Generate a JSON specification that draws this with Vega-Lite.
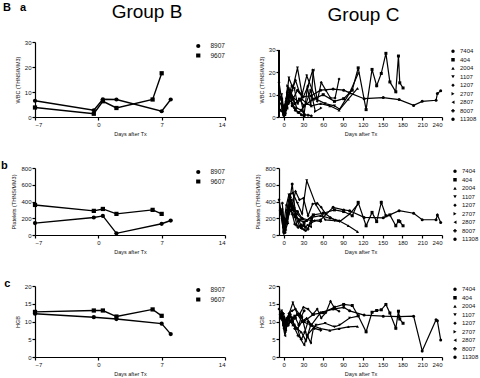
{
"$schema": "https://vega.github.io/schema/vega-lite/v6.json",
"padding": {"left": 0, "top": 2, "right": 0, "bottom": 0},
"background": "white",
"config": {
  "font": "Liberation Sans",
  "view": {"stroke": null},
  "axis": {"grid": false, "domainColor": "#000", "domainWidth": 1.2, "tickColor": "#000", "tickWidth": 1.2, "tickSize": 3, "labelFontSize": 6, "labelColor": "#111", "labelPadding": 1, "titleFontSize": 5.5, "titleFontWeight": "normal", "titleColor": "#111", "titlePadding": 4},
  "legend": {"labelFontSize": 6.3, "labelColor": "#111", "symbolFillColor": "#000", "symbolStrokeColor": "#000"},
  "title": {"color": "#000", "fontWeight": "normal"}
},
"title": {"text": "B\u00a0\u00a0\u00a0a", "anchor": "start", "fontSize": 11, "fontWeight": "bold", "offset": -10, "frame": "bounds", "dx": 2},
"datasets": {
  "B": [
    {"id": "9607", "day": -7, "wbc": 3.8, "plt": 359, "hgb": 12.7},
    {"id": "9607", "day": -0.5, "wbc": 1.3, "plt": 288, "hgb": 13.1},
    {"id": "9607", "day": 0.5, "wbc": 6.3, "plt": 311, "hgb": 13.1},
    {"id": "9607", "day": 2, "wbc": 3.6, "plt": 252, "hgb": 11.4},
    {"id": "9607", "day": 6, "wbc": 7.0, "plt": 300, "hgb": 13.4},
    {"id": "9607", "day": 7, "wbc": 17.5, "plt": 252, "hgb": 11.6},
    {"id": "8907", "day": -7, "wbc": 6.5, "plt": 142, "hgb": 12.2},
    {"id": "8907", "day": -0.5, "wbc": 2.7, "plt": 209, "hgb": 11.2},
    {"id": "8907", "day": 0.5, "wbc": 7.1, "plt": 228, "hgb": null},
    {"id": "8907", "day": 2, "wbc": 7.0, "plt": 20, "hgb": 10.7},
    {"id": "8907", "day": 7, "wbc": 2.3, "plt": 134, "hgb": 9.4},
    {"id": "8907", "day": 8, "wbc": 7.0, "plt": 173, "hgb": 6.45}
  ],
  "C": [
    {"id": "7404", "day": -5, "wbc": 3, "plt": 300, "hgb": 12},
    {"id": "7404", "day": 0, "wbc": 1.5, "plt": 150, "hgb": 10},
    {"id": "7404", "day": 7, "wbc": 6, "plt": 250, "hgb": 9},
    {"id": "7404", "day": 14, "wbc": 8, "plt": 320, "hgb": 11},
    {"id": "7404", "day": 21, "wbc": 12, "plt": 280, "hgb": 12},
    {"id": "7404", "day": 28, "wbc": 9, "plt": 200, "hgb": 10},
    {"id": "7404", "day": 42, "wbc": 9.5, "plt": 170, "hgb": 9},
    {"id": "7404", "day": 56, "wbc": 12, "plt": 180, "hgb": 12.5},
    {"id": "7404", "day": 75, "wbc": 12.5, "plt": 330, "hgb": 13.5},
    {"id": "7404", "day": 91, "wbc": 12, "plt": 300, "hgb": 14},
    {"id": "7404", "day": 100, "wbc": 10.8, "plt": 290, "hgb": 13},
    {"id": "7404", "day": 122, "wbc": 8.2, "plt": 210, "hgb": 11.8},
    {"id": "7404", "day": 151, "wbc": 8.7, "plt": 205, "hgb": 11.5},
    {"id": "7404", "day": 175, "wbc": 7.8, "plt": 290, "hgb": 11.4},
    {"id": "7404", "day": 197, "wbc": 5.2, "plt": 260, "hgb": 11.5},
    {"id": "7404", "day": 210, "wbc": 7.0, "plt": 182, "hgb": 1.7},
    {"id": "7404", "day": 231, "wbc": 7.5, "plt": 182, "hgb": 10.5},
    {"id": "7404", "day": 233, "wbc": 10.5, "plt": 240, "hgb": 10.2},
    {"id": "7404", "day": 238, "wbc": 11.7, "plt": 150, "hgb": 4.8},
    {"id": "404", "day": -3, "wbc": 8, "plt": 280, "hgb": 12},
    {"id": "404", "day": 0, "wbc": 2, "plt": 100, "hgb": 11},
    {"id": "404", "day": 5, "wbc": 4, "plt": 150, "hgb": 9},
    {"id": "404", "day": 10, "wbc": 10, "plt": 300, "hgb": 10},
    {"id": "404", "day": 17, "wbc": 6, "plt": 220, "hgb": 11.5},
    {"id": "404", "day": 24, "wbc": 8, "plt": 180, "hgb": 12},
    {"id": "404", "day": 31, "wbc": 5, "plt": 150, "hgb": 10},
    {"id": "404", "day": 45, "wbc": 8, "plt": 240, "hgb": 12},
    {"id": "404", "day": 60, "wbc": 10, "plt": 260, "hgb": 12.5},
    {"id": "404", "day": 77, "wbc": 7, "plt": 300, "hgb": 14},
    {"id": "404", "day": 91, "wbc": 8.2, "plt": 280, "hgb": 14.8},
    {"id": "404", "day": 104, "wbc": 12, "plt": 230, "hgb": 14.5},
    {"id": "404", "day": 113, "wbc": 22, "plt": 390, "hgb": 11.6},
    {"id": "404", "day": 125, "wbc": 3.3, "plt": 110, "hgb": 7.1},
    {"id": "404", "day": 134, "wbc": 21.3, "plt": 270, "hgb": 12.6},
    {"id": "404", "day": 141, "wbc": 14, "plt": 160, "hgb": 13.1},
    {"id": "404", "day": 148, "wbc": 19.5, "plt": 390, "hgb": 13.3},
    {"id": "404", "day": 155, "wbc": 28.5, "plt": 230, "hgb": 14.8},
    {"id": "404", "day": 161, "wbc": 15.7, "plt": 240, "hgb": 12.4},
    {"id": "404", "day": 170, "wbc": 11.3, "plt": 110, "hgb": 8.1},
    {"id": "404", "day": 174, "wbc": 27.3, "plt": 170, "hgb": 12.9},
    {"id": "404", "day": 176, "wbc": 15.3, "plt": 160, "hgb": 10.7},
    {"id": "404", "day": 181, "wbc": 13, "plt": 110, "hgb": 9.5},
    {"id": "2004", "day": -2, "wbc": 6, "plt": 320, "hgb": 12},
    {"id": "2004", "day": 0, "wbc": 3, "plt": 200, "hgb": 10},
    {"id": "2004", "day": 3, "wbc": 2, "plt": 150, "hgb": 9},
    {"id": "2004", "day": 7, "wbc": 8, "plt": 280, "hgb": 11},
    {"id": "2004", "day": 10, "wbc": 12, "plt": 350, "hgb": 10},
    {"id": "2004", "day": 14, "wbc": 9, "plt": 300, "hgb": 9},
    {"id": "2004", "day": 21, "wbc": 7, "plt": 250, "hgb": 8},
    {"id": "2004", "day": 28, "wbc": 8, "plt": 190, "hgb": 10},
    {"id": "2004", "day": 35, "wbc": 6, "plt": 170, "hgb": 11},
    {"id": "2004", "day": 42, "wbc": 5, "plt": 210, "hgb": 9},
    {"id": "2004", "day": 56, "wbc": 6, "plt": 230, "hgb": 8},
    {"id": "2004", "day": 70, "wbc": 5, "plt": 200, "hgb": 7.5},
    {"id": "2004", "day": 84, "wbc": 3, "plt": 170, "hgb": 8},
    {"id": "2004", "day": 98, "wbc": 8, "plt": 110, "hgb": 8.5},
    {"id": "2004", "day": 112, "wbc": 12.8, "plt": 40, "hgb": 8.6},
    {"id": "1107", "day": -3, "wbc": 10, "plt": 260, "hgb": 13},
    {"id": "1107", "day": 0, "wbc": 4, "plt": 120, "hgb": 12},
    {"id": "1107", "day": 4, "wbc": 8, "plt": 350, "hgb": 10},
    {"id": "1107", "day": 8, "wbc": 17.5, "plt": 480, "hgb": 12},
    {"id": "1107", "day": 14, "wbc": 13, "plt": 500, "hgb": 15.3},
    {"id": "1107", "day": 21, "wbc": 22, "plt": 380, "hgb": 12},
    {"id": "1107", "day": 28, "wbc": 10, "plt": 250, "hgb": 11},
    {"id": "1107", "day": 35, "wbc": 18.5, "plt": 650, "hgb": 6},
    {"id": "1107", "day": 49, "wbc": 8, "plt": 360, "hgb": 9},
    {"id": "1107", "day": 63, "wbc": 6, "plt": 180, "hgb": 9.5},
    {"id": "1107", "day": 77, "wbc": 5, "plt": 170, "hgb": 8.5},
    {"id": "1107", "day": 85, "wbc": 3.5, "plt": 160, "hgb": 9},
    {"id": "1107", "day": 100, "wbc": 10.8, "plt": 250, "hgb": 11},
    {"id": "1107", "day": 113, "wbc": 19.5, "plt": 370, "hgb": 11.5},
    {"id": "1207", "day": -7, "wbc": 15.6, "plt": 420, "hgb": 13.5},
    {"id": "1207", "day": 0, "wbc": 2, "plt": 120, "hgb": 11},
    {"id": "1207", "day": 2, "wbc": 5, "plt": 80, "hgb": 9},
    {"id": "1207", "day": 5, "wbc": 9, "plt": 300, "hgb": 11},
    {"id": "1207", "day": 9, "wbc": 7, "plt": 480, "hgb": 12.5},
    {"id": "1207", "day": 13, "wbc": 12, "plt": 340, "hgb": 13},
    {"id": "1207", "day": 18, "wbc": 16.5, "plt": 520, "hgb": 13.5},
    {"id": "1207", "day": 24, "wbc": 11, "plt": 420, "hgb": 12},
    {"id": "1207", "day": 30, "wbc": 9, "plt": 440, "hgb": 14},
    {"id": "1207", "day": 37, "wbc": 14, "plt": 230, "hgb": 13.5},
    {"id": "1207", "day": 44, "wbc": 21, "plt": 370, "hgb": 12},
    {"id": "1207", "day": 51, "wbc": 7, "plt": 380, "hgb": 13.5},
    {"id": "1207", "day": 57, "wbc": 15.5, "plt": 330, "hgb": 11},
    {"id": "1207", "day": 64, "wbc": 12, "plt": 250, "hgb": 12.5},
    {"id": "1207", "day": 71, "wbc": 8.5, "plt": 210, "hgb": 15.7},
    {"id": "1207", "day": 78, "wbc": 8.5, "plt": 180, "hgb": 13.5},
    {"id": "1207", "day": 84, "wbc": 17, "plt": 170, "hgb": 12.9},
    {"id": "2707", "day": -4, "wbc": 6, "plt": 250, "hgb": 11.5},
    {"id": "2707", "day": 0, "wbc": 1, "plt": 40, "hgb": 9},
    {"id": "2707", "day": 3, "wbc": 3, "plt": 100, "hgb": 7},
    {"id": "2707", "day": 6, "wbc": 14, "plt": 230, "hgb": 10},
    {"id": "2707", "day": 10, "wbc": 11, "plt": 400, "hgb": 11.5},
    {"id": "2707", "day": 14, "wbc": 9, "plt": 320, "hgb": 10},
    {"id": "2707", "day": 20, "wbc": 4, "plt": 120, "hgb": 8},
    {"id": "2707", "day": 27, "wbc": 3, "plt": 90, "hgb": 7},
    {"id": "2707", "day": 34, "wbc": 6, "plt": 50, "hgb": 4.5},
    {"id": "2707", "day": 41, "wbc": 12, "plt": 140, "hgb": 9},
    {"id": "2707", "day": 48, "wbc": 2.5, "plt": 170, "hgb": 8},
    {"id": "2707", "day": 57, "wbc": 4, "plt": 160, "hgb": 7.5},
    {"id": "2807", "day": -3, "wbc": 4, "plt": 200, "hgb": 12},
    {"id": "2807", "day": 0, "wbc": 0.5, "plt": 20, "hgb": 8},
    {"id": "2807", "day": 2, "wbc": 2, "plt": 60, "hgb": 6},
    {"id": "2807", "day": 5, "wbc": 11, "plt": 200, "hgb": 9},
    {"id": "2807", "day": 8, "wbc": 9, "plt": 350, "hgb": 11},
    {"id": "2807", "day": 12, "wbc": 14, "plt": 420, "hgb": 10},
    {"id": "2807", "day": 16, "wbc": 13, "plt": 320, "hgb": 9},
    {"id": "2807", "day": 21, "wbc": 6, "plt": 160, "hgb": 8},
    {"id": "2807", "day": 26, "wbc": 8, "plt": 80, "hgb": 5},
    {"id": "2807", "day": 31, "wbc": 1, "plt": 60, "hgb": 3.4},
    {"id": "2807", "day": 36, "wbc": 13.5, "plt": 120, "hgb": 6},
    {"id": "2807", "day": 41, "wbc": 5, "plt": 100, "hgb": 4},
    {"id": "2807", "day": 45, "wbc": 21, "plt": 240, "hgb": 8},
    {"id": "8007", "day": -2, "wbc": 5, "plt": 380, "hgb": 12.5},
    {"id": "8007", "day": 0, "wbc": 1.5, "plt": 180, "hgb": 9},
    {"id": "8007", "day": 3, "wbc": 3, "plt": 60, "hgb": 7.5},
    {"id": "8007", "day": 6, "wbc": 10, "plt": 140, "hgb": 9.5},
    {"id": "8007", "day": 9, "wbc": 12, "plt": 420, "hgb": 12},
    {"id": "8007", "day": 13, "wbc": 6, "plt": 250, "hgb": 11},
    {"id": "8007", "day": 17, "wbc": 4, "plt": 130, "hgb": 8},
    {"id": "8007", "day": 22, "wbc": 2, "plt": 90, "hgb": 6},
    {"id": "8007", "day": 27, "wbc": 3, "plt": 120, "hgb": 5},
    {"id": "8007", "day": 32, "wbc": 1, "plt": 100, "hgb": 7},
    {"id": "8007", "day": 37, "wbc": 0.8, "plt": 70, "hgb": 10},
    {"id": "8007", "day": 42, "wbc": 0.5, "plt": 200, "hgb": 9},
    {"id": "11308", "day": -5, "wbc": 9, "plt": 290, "hgb": 11},
    {"id": "11308", "day": 0, "wbc": 3, "plt": 100, "hgb": 9.5},
    {"id": "11308", "day": 2, "wbc": 1, "plt": 30, "hgb": 8},
    {"id": "11308", "day": 4, "wbc": 7, "plt": 180, "hgb": 10},
    {"id": "11308", "day": 7, "wbc": 13, "plt": 330, "hgb": 11},
    {"id": "11308", "day": 10, "wbc": 10, "plt": 450, "hgb": 12},
    {"id": "11308", "day": 13, "wbc": 5, "plt": 610, "hgb": 10},
    {"id": "11308", "day": 18, "wbc": 3, "plt": 250, "hgb": 11},
    {"id": "11308", "day": 23, "wbc": 2, "plt": 180, "hgb": 9},
    {"id": "11308", "day": 27, "wbc": 1, "plt": 100, "hgb": 11.5},
    {"id": "11308", "day": 31, "wbc": 0.5, "plt": 120, "hgb": 13}
  ]
},
"columns": 2,
"align": "each",
"spacing": {"row": 23, "column": 29},
"resolve": {"scale": {"x": "independent", "y": "independent", "shape": "independent"}, "legend": {"shape": "independent"}, "axis": {"x": "independent", "y": "independent"}},
"concat": [
  {
    "title": {"text": "Group B", "fontSize": 19, "anchor": "middle", "offset": 17, "dx": 17},
    "width": 190, "height": 75,
    "data": {"name": "B"},
    "encoding": {
      "x": {"field": "day", "type": "quantitative", "scale": {"domain": [-7, 14], "nice": false, "zero": false}, "axis": {"values": [-7, 0, 7, 14], "title": "Days after Tx"}},
      "y": {"field": "wbc", "type": "quantitative", "scale": {"domain": [0, 30], "nice": false}, "axis": {"values": [0, 10, 20, 30], "title": "WBC (THNS/MM3)"}}
    },
    "layer": [
      {"mark": {"type": "line", "color": "#000", "strokeWidth": 1.4}, "encoding": {"detail": {"field": "id"}}},
      {"mark": {"type": "point", "filled": true, "color": "#000", "opacity": 1, "size": 18},
       "encoding": {"shape": {"field": "id", "type": "nominal", "scale": {"domain": ["8907", "9607"], "range": ["circle", "square"]}, "legend": {"title": null, "orient": "top-right", "offset": 0, "labelOffset": 9, "symbolSize": 18, "clipHeight": 8, "rowPadding": 1.5, "labelFontSize": 6.5}}}}
    ]
  },
  {
    "title": {"text": "Group C", "fontSize": 19, "anchor": "middle", "offset": 17, "dx": 3},
    "width": 163, "height": 75,
    "data": {"name": "C"},
    "encoding": {
      "x": {"field": "day", "type": "quantitative", "scale": {"domain": [-7, 240], "nice": false, "zero": false}, "axis": {"values": [0, 30, 60, 90, 120, 150, 180, 210, 240], "title": "Days after Tx"}},
      "y": {"field": "wbc", "type": "quantitative", "scale": {"domain": [0, 33.58], "nice": false}, "axis": {"values": [0, 10, 20, 30], "title": "WBC (THNS/MM3)", "domain": false}}
    },
    "layer": [
      {"mark": {"type": "rule", "color": "#000", "strokeWidth": 1.2}, "encoding": {"x": {"datum": -7}, "y": {"datum": 0}, "y2": {"datum": 30}}},
      {"mark": {"type": "line", "color": "#000", "strokeWidth": 1.2}, "encoding": {"detail": {"field": "id"}}},
      {"mark": {"type": "point", "filled": true, "color": "#000", "opacity": 1, "size": 9},
       "encoding": {"shape": {"field": "id", "type": "nominal", "scale": {"domain": ["7404", "404", "2004", "1107", "1207", "2707", "2807", "8007", "11308"], "range": ["circle", "square", "triangle-up", "triangle-down", "diamond", "triangle-right", "triangle-left", "cross", "circle"]}, "legend": {"title": null, "orient": "none", "legendX": 171, "legendY": 6, "symbolSize": 12, "clipHeight": 6.4, "rowPadding": 1.5, "labelFontSize": 6}}}}
    ]
  },
  {
    "title": {"text": "b", "fontSize": 11, "fontWeight": "bold", "anchor": "start", "frame": "bounds", "offset": -6, "dx": -11},
    "width": 190, "height": 67,
    "data": {"name": "B"},
    "encoding": {
      "x": {"field": "day", "type": "quantitative", "scale": {"domain": [-7, 14], "nice": false, "zero": false}, "axis": {"values": [-7, 0, 7, 14], "title": "Days after Tx"}},
      "y": {"field": "plt", "type": "quantitative", "scale": {"domain": [0, 800], "nice": false}, "axis": {"values": [0, 200, 400, 600, 800], "title": "Platelets (THNS/MM3)"}}
    },
    "layer": [
      {"mark": {"type": "line", "color": "#000", "strokeWidth": 1.4}, "encoding": {"detail": {"field": "id"}}},
      {"mark": {"type": "point", "filled": true, "color": "#000", "opacity": 1, "size": 18},
       "encoding": {"shape": {"field": "id", "type": "nominal", "scale": {"domain": ["8907", "9607"], "range": ["circle", "square"]}, "legend": {"title": null, "orient": "top-right", "offset": 0, "labelOffset": 9, "symbolSize": 18, "clipHeight": 8, "rowPadding": 1.5, "labelFontSize": 6.5}}}}
    ]
  },
  {
    "width": 163, "height": 67,
    "data": {"name": "C"},
    "encoding": {
      "x": {"field": "day", "type": "quantitative", "scale": {"domain": [-7, 240], "nice": false, "zero": false}, "axis": {"values": [0, 30, 60, 90, 120, 150, 180, 210, 240], "title": "Days after Tx"}},
      "y": {"field": "plt", "type": "quantitative", "scale": {"domain": [0, 800], "nice": false}, "axis": {"values": [0, 200, 400, 600, 800], "title": "Platelets (THNS/MM3)"}}
    },
    "layer": [
      {"mark": {"type": "line", "color": "#000", "strokeWidth": 1.2}, "encoding": {"detail": {"field": "id"}}},
      {"mark": {"type": "point", "filled": true, "color": "#000", "opacity": 1, "size": 9},
       "encoding": {"shape": {"field": "id", "type": "nominal", "scale": {"domain": ["7404", "404", "2004", "1107", "1207", "2707", "2807", "8007", "11308"], "range": ["circle", "square", "triangle-up", "triangle-down", "diamond", "triangle-right", "triangle-left", "cross", "circle"]}, "legend": {"title": null, "orient": "right", "offset": 8, "symbolSize": 12, "clipHeight": 6.4, "rowPadding": 1.5, "labelFontSize": 6}}}}
    ]
  },
  {
    "title": {"text": "c", "fontSize": 11, "fontWeight": "bold", "anchor": "start", "frame": "bounds", "offset": -6, "dx": -11},
    "width": 190, "height": 71,
    "data": {"name": "B"},
    "transform": [{"filter": "datum.hgb != null"}],
    "encoding": {
      "x": {"field": "day", "type": "quantitative", "scale": {"domain": [-7, 14], "nice": false, "zero": false}, "axis": {"values": [-7, 0, 7, 14], "title": "Days after Tx"}},
      "y": {"field": "hgb", "type": "quantitative", "scale": {"domain": [0, 20], "nice": false}, "axis": {"values": [0, 5, 10, 15, 20], "title": "HGB"}}
    },
    "layer": [
      {"mark": {"type": "line", "color": "#000", "strokeWidth": 1.4}, "encoding": {"detail": {"field": "id"}}},
      {"mark": {"type": "point", "filled": true, "color": "#000", "opacity": 1, "size": 18},
       "encoding": {"shape": {"field": "id", "type": "nominal", "scale": {"domain": ["8907", "9607"], "range": ["circle", "square"]}, "legend": {"title": null, "orient": "top-right", "offset": 0, "labelOffset": 9, "symbolSize": 18, "clipHeight": 8, "rowPadding": 1.5, "labelFontSize": 6.5}}}}
    ]
  },
  {
    "width": 163, "height": 71,
    "data": {"name": "C"},
    "encoding": {
      "x": {"field": "day", "type": "quantitative", "scale": {"domain": [-7, 240], "nice": false, "zero": false}, "axis": {"values": [0, 30, 60, 90, 120, 150, 180, 210, 240], "title": "Days after Tx"}},
      "y": {"field": "hgb", "type": "quantitative", "scale": {"domain": [0, 20], "nice": false}, "axis": {"values": [0, 5, 10, 15, 20], "title": "HGB"}}
    },
    "layer": [
      {"mark": {"type": "line", "color": "#000", "strokeWidth": 1.2}, "encoding": {"detail": {"field": "id"}}},
      {"mark": {"type": "point", "filled": true, "color": "#000", "opacity": 1, "size": 9},
       "encoding": {"shape": {"field": "id", "type": "nominal", "scale": {"domain": ["7404", "404", "2004", "1107", "1207", "2707", "2807", "8007", "11308"], "range": ["circle", "square", "triangle-up", "triangle-down", "diamond", "triangle-right", "triangle-left", "cross", "circle"]}, "legend": {"title": null, "orient": "right", "offset": 8, "symbolSize": 12, "clipHeight": 6.4, "rowPadding": 1.5, "labelFontSize": 6}}}}
    ]
  }
]
}
